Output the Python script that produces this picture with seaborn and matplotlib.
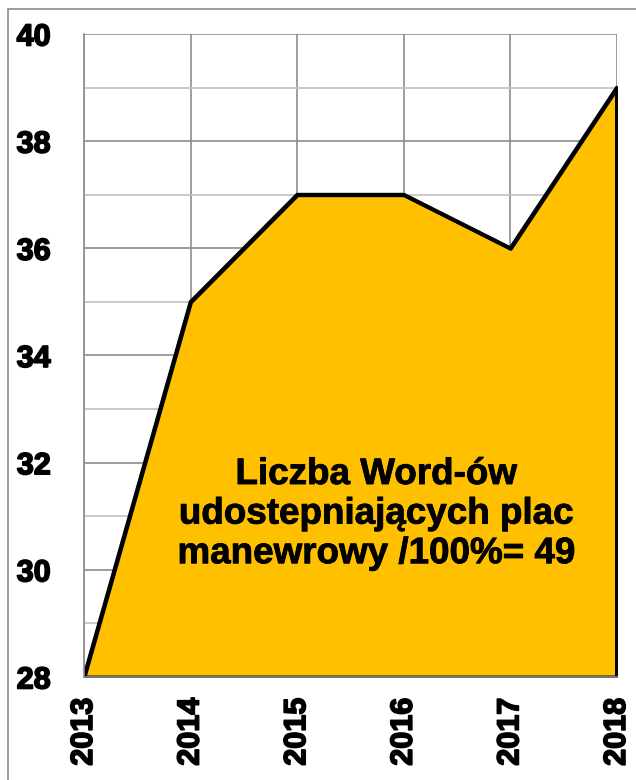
import numpy as np
import matplotlib
matplotlib.use("Agg")
import matplotlib.pyplot as plt
import matplotlib.patheffects as pe
import seaborn as sns
from matplotlib.patches import Rectangle

years = [2013, 2014, 2015, 2016, 2017, 2018]
values = [28, 35, 37, 37, 36, 39]
label = "Liczba Word-ów\nudostepniających plac\nmanewrowy /100%= 49"

sns.set_style("white")
plt.rcParams['font.family'] = ['Liberation Sans', 'DejaVu Sans']
plt.rcParams['font.weight'] = 'bold'
plt.rcParams['text.color'] = 'black'
plt.rcParams['xtick.labelcolor'] = 'black'
plt.rcParams['ytick.labelcolor'] = 'black'

fig = plt.figure(figsize=(6.36, 7.8), dpi=100)
ax = fig.add_axes([84/636, 1 - 677/780, (617 - 84)/636, (677 - 34)/780])

# outer frame of the picture
fig.patches.append(Rectangle((8/636, -0.1), 1.2, 1 - 9/780 + 0.1, transform=fig.transFigure,
                             fill=False, edgecolor="#8c8c8c", linewidth=1.2))

ax.fill_between(years, values, 28, facecolor="#FFC000", edgecolor="black", linewidth=2.8, zorder=3)
sns.lineplot(x=years, y=values, ax=ax, color="black", linewidth=2.8, zorder=4)
ax.plot([years[-1], years[-1]], [28, values[-1]], color="black", linewidth=2.8, zorder=4)

ax.set_xlim(2013, 2018)
ax.set_ylim(28, 40)
ax.set_yticks(np.arange(28, 41, 2))
ax.set_yticks(np.arange(29, 40, 2), minor=True)
ax.set_xticks(years)

ax.grid(True, which="major", color="#8c8c8c", linewidth=1.2, zorder=0)
ax.grid(True, which="minor", axis="y", color="#c0c0c0", linewidth=1.2, zorder=0)
ax.set_axisbelow(True)

for s in ["top", "right"]:
    ax.spines[s].set_visible(False)
for s in ["left", "bottom"]:
    ax.spines[s].set_color("#8c8c8c")
    ax.spines[s].set_linewidth(1.2)
    ax.spines[s].set_zorder(5)

ax.tick_params(axis="both", which="major", direction="out", length=8, width=1.2,
               color="#8c8c8c", labelsize=22)
ax.tick_params(axis="y", which="major", pad=16)
ax.tick_params(axis="x", which="major", pad=7, labelrotation=90)
ax.tick_params(axis="y", which="minor", length=0)
ax.set_xlabel("")
ax.set_ylabel("")
ax.set_xticklabels([str(y) for y in years])
ax.set_yticklabels([str(v) for v in range(28, 41, 2)])
heavy = [pe.withStroke(linewidth=1.2, foreground="black")]
for t in ax.get_xticklabels() + ax.get_yticklabels():
    t.set_fontweight("bold")
    t.set_path_effects(heavy)

ax.text(2015.74, 31.04, label, ha="center", va="center", fontsize=26.5, fontweight="bold",
        linespacing=1.17, zorder=6, path_effects=[pe.withStroke(linewidth=0.6, foreground="black")])

fig.savefig("out.png", dpi=100)
